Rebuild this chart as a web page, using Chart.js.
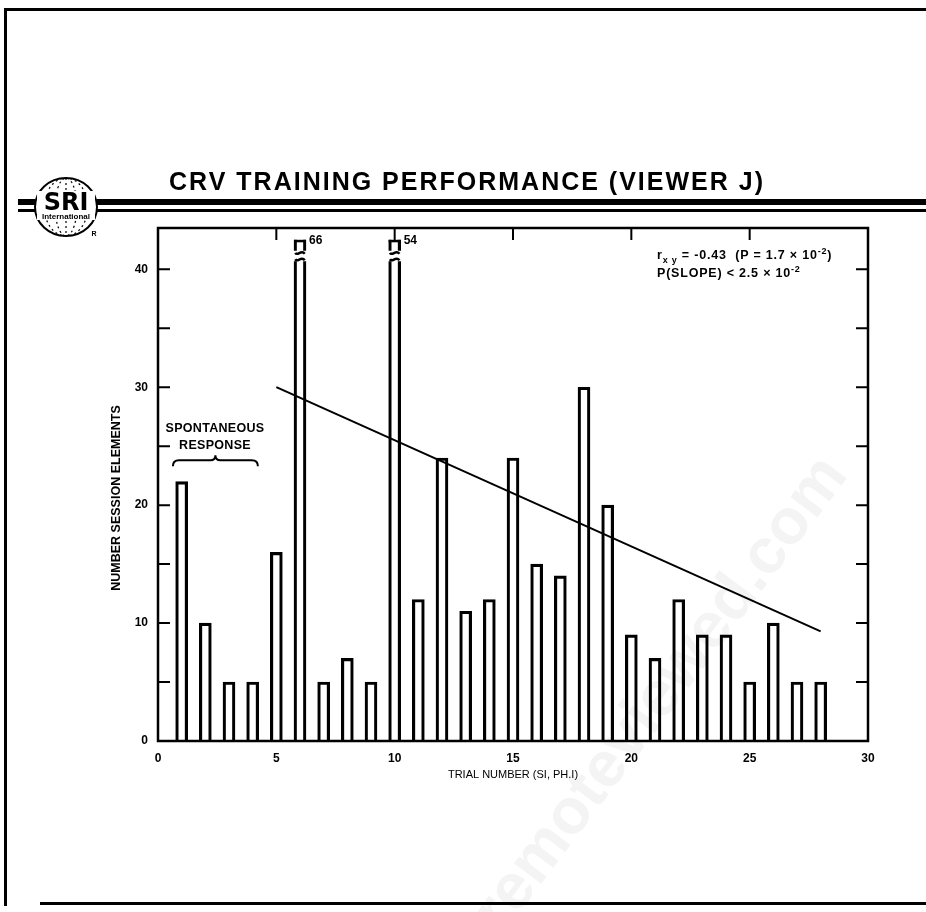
<!DOCTYPE html>
<html>
<head>
<meta charset="utf-8">
<script src="https://cdn.jsdelivr.net/npm/chart.js@4.4.1/dist/chart.umd.min.js"></script>
<style>
  html, body { margin: 0; padding: 0; background: #fff; }
  #wrap { position: relative; width: 926px; height: 912px; overflow: hidden; }
  #chart { position: absolute; left: 0; top: 0; }
  .mark {
    position: absolute; white-space: nowrap; color: #f4f4f4;
    font: bold 64px "Liberation Sans", sans-serif;
    transform-origin: 0 0;
  }
  .note {
    position: absolute; white-space: nowrap; color: #000;
    font: bold 12.5px "Liberation Sans", Arial, sans-serif; line-height: 14px;
    letter-spacing: 0.8px;
  }
  .note sub, .note sup { font-size: 9px; line-height: 0; }
  .spont {
    position: absolute; left: 150px; width: 130px; text-align: center; color: #000;
    font: bold 12.5px "Liberation Sans", Arial, sans-serif; line-height: 17px;
    letter-spacing: 0.3px;
  }
</style>
</head>
<body>
<div id="wrap">
  <div class="mark" style="left:455px; top:900px; transform: rotate(-53deg);">remoteviewed.com</div>
  <canvas id="chart" width="926" height="912"></canvas>
  <div class="note" style="left:657px; top:248px;">r<sub>x y</sub> = -0.43 &nbsp;(P = 1.7 × 10<sup>-2</sup>)</div>
  <div class="note" style="left:657px; top:266px;">P(SLOPE) &lt; 2.5 × 10<sup>-2</sup></div>
  <div class="spont" style="top:420px;">SPONTANEOUS<br>RESPONSE</div>
</div>
<script>
// Session elements per training trial
const trials   = [1, 2, 3, 4, 5, 6, 7, 8, 9, 10, 11, 12, 13, 14,
                  15, 16, 17, 18, 19, 20, 21, 22, 23, 24, 25, 26, 27, 28];
const elements = [22, 10, 5, 5, 16, 66, 5, 7, 5, 54, 12, 24, 11, 12,
                  24, 15, 14, 30, 20, 9, 7, 12, 9, 9, 5, 10, 5, 5];

// Fitted trend line end points
const trendX = [5, 28];
const trendY = [30, 9.3];

// Axis labels and the inward frame ticks
const xTicks = [0, 5, 10, 15, 20, 25, 30];
const yTicks = [0, 10, 20, 30, 40];
const frameTicksX = [5, 10, 15, 20, 25];
const frameTicksY = [5, 10, 15, 20, 25, 30, 35, 40];

const INK = '#000';
const FONT = '"Liberation Sans", Arial, sans-serif';

function drawLogo(ctx) {
  const cx = 66, cy = 207, rx = 31, ry = 29;
  ctx.save();
  ctx.strokeStyle = INK;
  ctx.lineWidth = 2;
  ctx.beginPath();
  ctx.ellipse(cx, cy, rx, ry, 0, 0, Math.PI * 2);
  ctx.stroke();

  // dotted meridians above and below the lettering
  ctx.lineWidth = 1.2;
  ctx.setLineDash([2, 3]);
  [0.35, 0.7].forEach(k => {
    ctx.beginPath();
    ctx.ellipse(cx, cy, rx * k, ry, 0, Math.PI * 1.1, Math.PI * 1.9);
    ctx.stroke();
    ctx.beginPath();
    ctx.ellipse(cx, cy, rx * k, ry, 0, Math.PI * 0.1, Math.PI * 0.9);
    ctx.stroke();
  });
  ctx.beginPath();
  ctx.moveTo(cx, cy - ry); ctx.lineTo(cx, cy - 14);
  ctx.moveTo(cx, cy + 14); ctx.lineTo(cx, cy + ry);
  ctx.stroke();
  ctx.setLineDash([]);

  ctx.fillStyle = '#fff';
  ctx.fillRect(cx - 29, cy - 16, 58, 29);
  ctx.fillStyle = INK;
  ctx.textAlign = 'center';
  ctx.textBaseline = 'alphabetic';
  ctx.font = 'bold 24px "DejaVu Sans", sans-serif';
  ctx.fillText('SRI', cx, cy + 3);
  ctx.font = 'bold 8px ' + FONT;
  ctx.fillText('International', cx, cy + 12);
  ctx.font = 'bold 7px ' + FONT;
  ctx.fillText('R', cx + 28, cy + 29);
  ctx.restore();
}

// Page frame, heading, rules and logo
const slideDecor = {
  id: 'slideDecor',
  beforeDraw(chart) {
    const ctx = chart.ctx;
    ctx.save();
    ctx.fillStyle = INK;
    // page border
    ctx.fillRect(4, 8, 3, 898);
    ctx.fillRect(4, 8, 922, 3);
    ctx.fillRect(40, 902, 886, 3);
    // double rule either side of the logo
    ctx.fillRect(18, 199, 17, 6);
    ctx.fillRect(18, 209, 17, 3);
    ctx.fillRect(97, 199, 829, 6);
    ctx.fillRect(97, 209, 829, 3);
    // heading
    ctx.font = 'bold 25px ' + FONT;
    ctx.letterSpacing = '2px';
    ctx.textAlign = 'center';
    ctx.textBaseline = 'alphabetic';
    ctx.fillText('CRV TRAINING PERFORMANCE (VIEWER J)', 467, 190);
    ctx.letterSpacing = '0px';
    ctx.restore();
    drawLogo(ctx);
  },
  afterDatasetsDraw(chart) {
    const {ctx, chartArea, scales: {x, y}} = chart;
    const meta = chart.getDatasetMeta(0);
    const bw = 2.5;
    const capTop = y.getPixelForValue(42.5);
    const capBot = y.getPixelForValue(41.4);
    const bodyTop = y.getPixelForValue(40.85);
    ctx.save();
    meta.data.forEach((bar, i) => {
      if (elements[i] <= y.max) return;
      const l = bar.x - bar.width / 2, r = bar.x + bar.width / 2, w = r - l;
      // cut the off-scale bar into a short cap above a broken body
      ctx.fillStyle = '#fff';
      ctx.fillRect(l - 2, chartArea.top - 6, w + 4, capTop - chartArea.top + 6);
      ctx.fillRect(l - 2, capBot - 2, w + 4, bodyTop - capBot + 4);
      ctx.fillStyle = INK;
      ctx.fillRect(l, capTop, w, bw);
      ctx.strokeStyle = INK;
      ctx.lineWidth = bw;
      [capBot, bodyTop].forEach(yy => {
        ctx.beginPath();
        ctx.moveTo(l + bw / 2, yy);
        ctx.bezierCurveTo(l + w * 0.3, yy + 4, l + w * 0.6, yy - 4, r - bw / 2, yy + 1);
        ctx.stroke();
      });
      ctx.font = 'bold 12px ' + FONT;
      ctx.textAlign = 'left';
      ctx.textBaseline = 'middle';
      ctx.fillText(String(elements[i]), r + 3, capTop + 1);
    });

    // brace over the spontaneous-response trials
    const bx0 = x.getPixelForValue(0.63), bx1 = x.getPixelForValue(4.22);
    const bm = (bx0 + bx1) / 2, by = y.getPixelForValue(23.8);
    ctx.strokeStyle = INK;
    ctx.lineWidth = 2;
    ctx.beginPath();
    ctx.moveTo(bx0, by + 6);
    ctx.quadraticCurveTo(bx0, by, bx0 + 6, by);
    ctx.lineTo(bm - 5, by);
    ctx.quadraticCurveTo(bm, by, bm, by - 5);
    ctx.quadraticCurveTo(bm, by, bm + 5, by);
    ctx.lineTo(bx1 - 6, by);
    ctx.quadraticCurveTo(bx1, by, bx1, by + 6);
    ctx.stroke();
    ctx.restore();
  },
  afterDraw(chart) {
    const {ctx, chartArea: a, scales: {x, y}} = chart;
    ctx.save();
    ctx.strokeStyle = INK;
    ctx.lineWidth = 2.5;
    ctx.strokeRect(a.left, a.top, a.right - a.left, a.bottom - a.top);
    ctx.lineWidth = 2;
    ctx.beginPath();
    frameTicksY.forEach(v => {
      const py = y.getPixelForValue(v);
      ctx.moveTo(a.left, py); ctx.lineTo(a.left + 12, py);
      ctx.moveTo(a.right - 12, py); ctx.lineTo(a.right, py);
    });
    frameTicksX.forEach(v => {
      const px = x.getPixelForValue(v);
      ctx.moveTo(px, a.top); ctx.lineTo(px, a.top + 12);
    });
    ctx.stroke();

    // y axis caption, set a little below the plot's mid-height
    ctx.translate(117, 498);
    ctx.rotate(-Math.PI / 2);
    ctx.fillStyle = INK;
    ctx.font = 'bold 12.5px ' + FONT;
    ctx.textAlign = 'center';
    ctx.textBaseline = 'middle';
    ctx.fillText('NUMBER SESSION ELEMENTS', 0, 0);
    ctx.restore();
  }
};

const tickFont = { family: FONT, size: 12, weight: 'bold' };

new Chart(document.getElementById('chart'), {
  type: 'bar',
  data: {
    datasets: [
      {
        type: 'bar',
        data: trials.map((t, i) => ({ x: t, y: elements[i] })),
        backgroundColor: 'rgba(0,0,0,0)',
        borderColor: INK,
        borderWidth: 2.5,
        borderSkipped: 'start',
        barThickness: 12,
        clip: 4,
        order: 2
      },
      {
        type: 'line',
        data: trendX.map((v, i) => ({ x: v, y: trendY[i] })),
        borderColor: INK,
        borderWidth: 2,
        pointRadius: 0,
        fill: false,
        order: 1
      }
    ]
  },
  options: {
    responsive: false,
    devicePixelRatio: 1,
    animation: false,
    layout: { padding: { left: 106, top: 228, right: 58, bottom: 126 } },
    plugins: { legend: { display: false }, tooltip: { enabled: false } },
    scales: {
      x: {
        type: 'linear',
        min: 0,
        max: 30,
        offset: false,
        afterBuildTicks: s => { s.ticks = xTicks.map(v => ({ value: v })); },
        afterFit: s => { s.height = 45; },
        grid: { display: false, drawTicks: false },
        border: { display: false },
        ticks: { padding: 10, color: INK, font: tickFont, maxRotation: 0 },
        title: {
          display: true,
          text: 'TRIAL NUMBER (SI, PH.I)',
          color: INK,
          font: { family: FONT, size: 11 }
        }
      },
      y: {
        min: 0,
        max: 43.5,
        afterBuildTicks: s => { s.ticks = yTicks.map(v => ({ value: v })); },
        afterFit: s => { s.width = 52; },
        grid: { display: false, drawTicks: false },
        border: { display: false },
        ticks: { padding: 10, color: INK, font: tickFont }
      }
    }
  },
  plugins: [slideDecor]
});
</script>
</body>
</html>
